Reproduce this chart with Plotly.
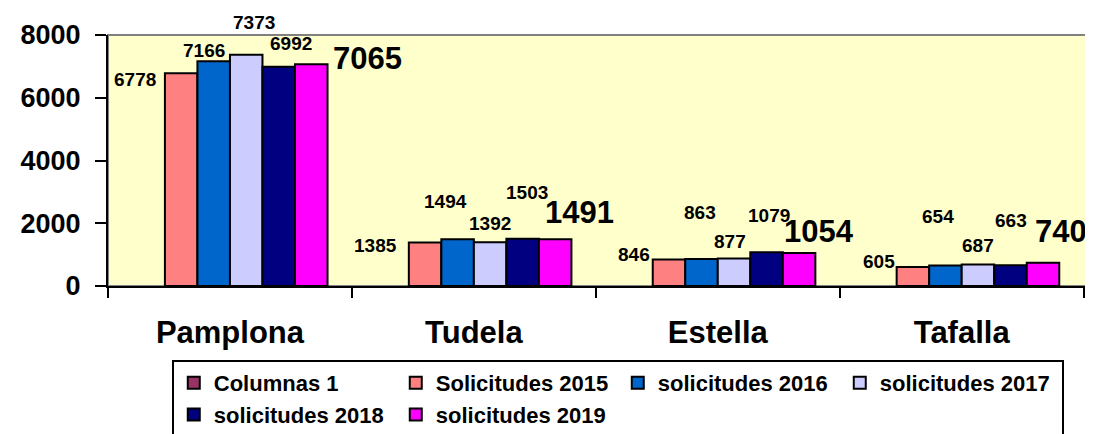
import plotly.graph_objects as go

# Data
categories = ["Pamplona", "Tudela", "Estella", "Tafalla"]
series_names = ["Columnas 1", "Solicitudes 2015", "solicitudes 2016",
                "solicitudes 2017", "solicitudes 2018", "solicitudes 2019"]
columnas_1 = [None, None, None, None]
sol_2015 = [6778, 1385, 846, 605]
sol_2016 = [7166, 1494, 863, 654]
sol_2017 = [7373, 1392, 877, 687]
sol_2018 = [6992, 1503, 1079, 663]
sol_2019 = [7065, 1491, 1054, 740]
y_ticks = [0, 2000, 4000, 6000, 8000]

series_values = [columnas_1, sol_2015, sol_2016, sol_2017, sol_2018, sol_2019]
colors = ["#993366", "#FF8080", "#0066CC", "#CCCCFF", "#000080", "#FF00FF"]

# label offsets in px (xshift, yshift) per series (2015..2019) per category,
# mimicking the staggered Excel label placement
label_offsets = {
    1: [(-46, -6), (-50, -3), (-35, 5), (-34, 6)],
    2: [(-10, 11), (-12, 38), (-2, 46), (-7, 49)],
    3: [(8, 32), (0, 19), (-4, 17), (0, 19)],
    4: [(12, 23), (4, 46), (2, 37), (1, 45)],
    5: [(56, 6), (24, 27), (20, 21), (18, 31)],
}

FONT = "Liberation Sans, Arial, sans-serif"
n_series = len(series_names)
bar_w = 0.8 / n_series

fig = go.Figure()
for name, vals, col in zip(series_names, series_values, colors):
    fig.add_trace(go.Bar(
        x=categories, y=vals, name=name,
        marker=dict(color=col, line=dict(color="black", width=2)),
    ))

annotations = []
for i in range(1, n_series):
    for j, v in enumerate(series_values[i]):
        dx, dy = label_offsets[i][j]
        big = (i == n_series - 1)
        annotations.append(dict(
            x=j + (i - (n_series - 1) / 2) * bar_w, y=v, xref="x", yref="y",
            text=str(v), showarrow=False,
            xshift=dx, yshift=dy, yanchor="middle", xanchor="center",
            font=dict(family=FONT, size=31 if big else 19, color="black",
                      weight="bold"),
        ))

# the page body has an 8px margin, so the figure is sized/offset to compensate
fig.update_layout(
    width=1085, height=426,
    margin=dict(l=100, r=4, t=27, b=148, autoexpand=False),
    paper_bgcolor="white", plot_bgcolor="#FFFFCC",
    barmode="group", bargap=0.2, bargroupgap=0,
    font=dict(family=FONT, color="black"),
    annotations=annotations,
    showlegend=True,
    legend=dict(
        orientation="h", x=0.065, y=-0.295, xanchor="left", yanchor="top",
        bordercolor="black", borderwidth=2, bgcolor="white",
        font=dict(family=FONT, size=22, color="black", weight="bold"),
        entrywidth=177, entrywidthmode="pixels",
        itemwidth=30, tracegroupgap=0,
    ),
    shapes=[dict(type="rect", xref="paper", yref="paper", x0=0, x1=1, y0=0, y1=1,
                 line=dict(color="#808080", width=2), layer="below")],
)

fig.update_xaxes(
    type="category", tickson="boundaries",
    showline=True, linecolor="black", linewidth=2,
    ticks="outside", ticklen=10, tickwidth=2, tickcolor="black",
    tickfont=dict(family=FONT, size=31, color="black", weight="bold"),
    ticklabelstandoff=18, showgrid=False, zeroline=False,
)
fig.update_yaxes(
    range=[0, 8000], tickvals=y_ticks,
    showline=True, linecolor="black", linewidth=2,
    ticks="outside", ticklen=11, tickwidth=2, tickcolor="black",
    tickfont=dict(family=FONT, size=27, color="black", weight="bold"),
    ticklabelstandoff=9, showgrid=False, zeroline=False,
)

fig.write_html("out.html")
